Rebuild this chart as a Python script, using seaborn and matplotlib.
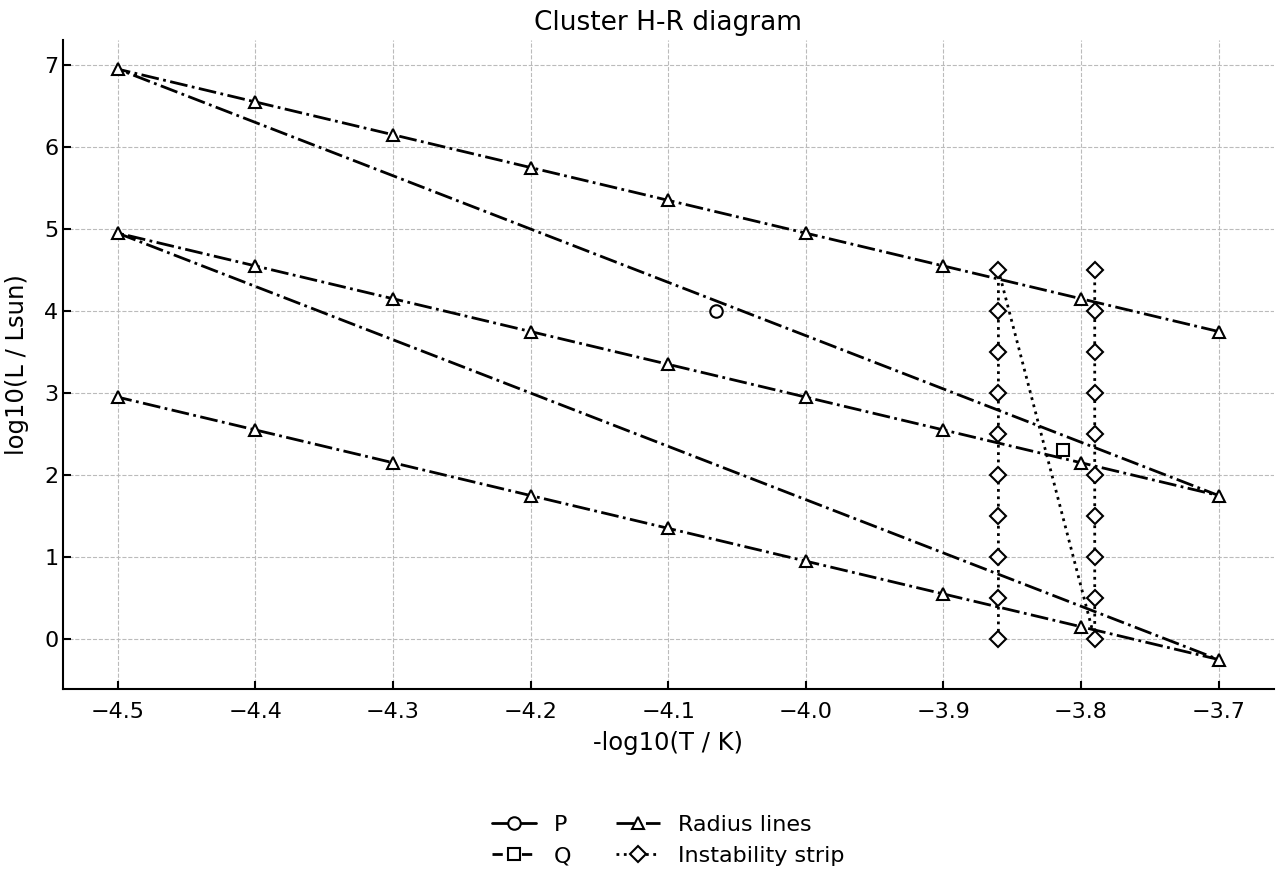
import numpy as np
import pandas as pd
import seaborn as sns
import matplotlib.pyplot as plt

# data
radius_x = [-3.7, -3.8, -3.9, -4.0, -4.1, -4.2, -4.3, -4.4, -4.5]
radius_top = [3.75, 4.15, 4.55, 4.95, 5.35, 5.75, 6.15, 6.55, 6.95]
radius_mid = [1.75, 2.15, 2.55, 2.95, 3.35, 3.75, 4.15, 4.55, 4.95]
radius_low = [-0.25, 0.15, 0.55, 0.95, 1.35, 1.75, 2.15, 2.55, 2.95]

strip_y = [0.0, 0.5, 1.0, 1.5, 2.0, 2.5, 3.0, 3.5, 4.0, 4.5]
strip_x_left = -3.86
strip_x_right = -3.79

p_x, p_y = [-4.065], [4.0]
q_x, q_y = [-3.813], [2.3]

sns.set_theme(style="ticks")
plt.rcParams['font.family'] = ['DejaVu Sans']
plt.rcParams['xtick.direction'] = 'in'
plt.rcParams['ytick.direction'] = 'in'
plt.rcParams['text.color'] = 'black'
plt.rcParams['axes.labelcolor'] = 'black'
plt.rcParams['xtick.color'] = 'black'
plt.rcParams['ytick.color'] = 'black'

fig, ax = plt.subplots(figsize=(12.8, 8.8), dpi=100)

rad = pd.DataFrame({
    "x": radius_x * 3,
    "y": radius_top + radius_mid + radius_low,
})
strip = pd.DataFrame({
    "x": [strip_x_left] * len(strip_y) + [strip_x_right] * len(strip_y),
    "y": strip_y + strip_y,
})

mk = dict(color="black", markerfacecolor="white", markeredgecolor="black",
          markeredgewidth=1.5, markersize=9, linewidth=2)

ax.plot(p_x, p_y, marker="o", linestyle="-", label="P", **mk)
ax.plot(q_x, q_y, marker="s", linestyle="--", label="Q", **mk)
sns.lineplot(data=rad, x="x", y="y", sort=False, estimator=None, ax=ax,
             marker="^", linestyle="-.", label="Radius lines", **mk)
sns.lineplot(data=strip, x="x", y="y", sort=False, estimator=None, ax=ax,
             marker="D", linestyle=":", label="Instability strip",
             **{**mk, "markersize": 8})

ax.set_xlim(-4.54, -3.66)
ax.set_ylim(-0.61, 7.31)
ticks = np.arange(-4.5, -3.65, 0.1)
ax.set_xticks(ticks)
ax.set_xticklabels([f"{v:.1f}".replace("-", "\u2212") for v in ticks])
ax.grid(True, linestyle="--", color="#bbbbbb", linewidth=0.8)
ax.tick_params(labelsize=16, width=1.5, length=6)
ax.tick_params(axis="x", pad=9)
ax.tick_params(axis="y", pad=3)
for s in ["left", "bottom"]:
    ax.spines[s].set_linewidth(1.5)
    ax.spines[s].set_color("black")
sns.despine(ax=ax)

ax.set_title("Cluster H-R diagram", fontsize=19, color="black", pad=7)
ax.set_xlabel("-log10(T / K)", fontsize=17.5, labelpad=7)
ax.set_ylabel("log10(L / Lsun)", fontsize=17.5, labelpad=11)

ax.legend(loc="upper center", bbox_to_anchor=(0.5, -0.163), ncol=2,
          frameon=False, fontsize=16, handlelength=2, columnspacing=2,
          labelspacing=0.5)

fig.subplots_adjust(left=0.049, right=0.995, top=0.955, bottom=0.217)
fig.savefig("out.png", dpi=100)
